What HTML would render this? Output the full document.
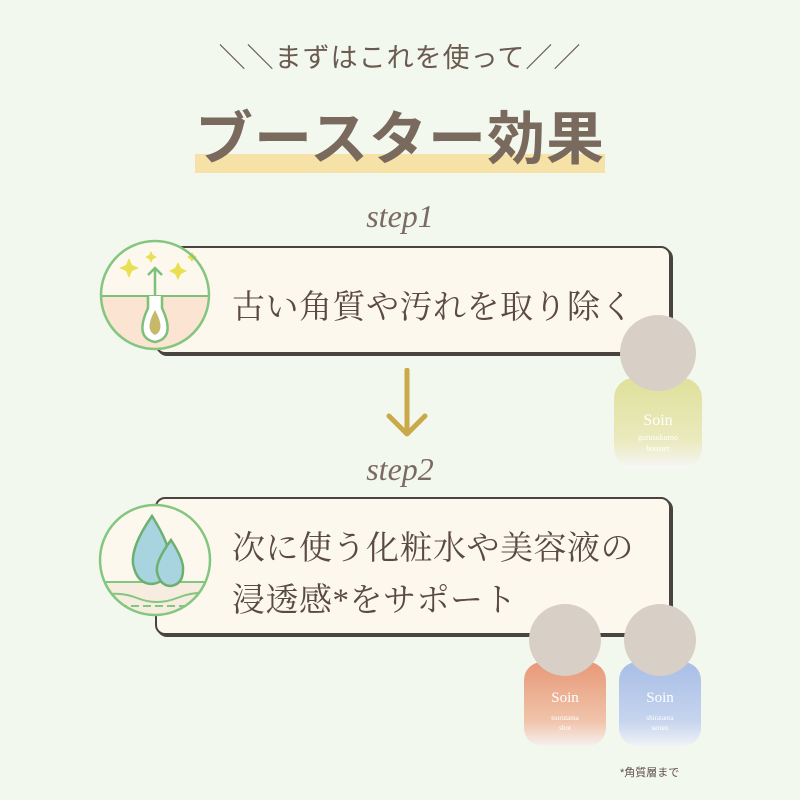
<!DOCTYPE html>
<html><head><meta charset="utf-8"><style>
html,body{margin:0;padding:0}
body{width:800px;height:800px;background:#f3f8ef;position:relative;overflow:hidden;font-family:"Liberation Sans","Noto Sans CJK JP",sans-serif;color:#5e5049}
.a{position:absolute}
.box{position:absolute;background:#fcf8ee;border:2px solid #4a4440;border-radius:10px;box-shadow:2px 2px 0 #4a4440}
.t{position:absolute;font-family:"Liberation Serif","Noto Serif CJK SC",serif;font-size:33px;color:#5a4a42;letter-spacing:0.5px;white-space:nowrap}
.step{position:absolute;width:800px;text-align:center;font-family:"Liberation Serif",serif;font-style:italic;font-size:32px;color:#7a6a60}
</style></head><body>
<div class="a" style="left:0;top:36px;width:800px;text-align:center;font-size:27px;color:#6a5a50;letter-spacing:1px">＼＼まずはこれを使って／／</div>
<div class="a" style="left:195px;top:154px;width:410px;height:19px;background:#f6e2a6"></div>
<div class="a" style="left:180px;top:92px;width:440px;text-align:center;font-size:58px;font-weight:bold;color:#7a6a5e;letter-spacing:1px">ブースター効果</div>
<div class="step" style="top:198px">step1</div>
<div class="box" style="left:155px;top:246px;width:512px;height:104px"></div>
<div class="t" style="left:232px;top:281px">古い角質や汚れを取り除く</div>
<svg class="a" style="left:98px;top:238px" width="114" height="114" viewBox="0 0 114 114">
<defs><clipPath id="c1"><circle cx="57" cy="57" r="54"/></clipPath></defs>
<circle cx="57" cy="57" r="54" fill="#fdf8ee"/>
<g clip-path="url(#c1)"><rect x="0" y="58" width="114" height="60" fill="#fbe4d2"/></g>
<line x1="3" y1="58" x2="111" y2="58" stroke="#7cc07a" stroke-width="2"/>
<path d="M50 58 L50 70 Q36 100 57 104 Q78 100 64 70 L64 58" fill="#fff" stroke="#7cc07a" stroke-width="2.5"/>
<path d="M57 72 Q46 92 57 97 Q68 92 57 72Z" fill="#c8b96a"/>
<line x1="57" y1="58" x2="57" y2="30" stroke="#7cc07a" stroke-width="2.5"/>
<path d="M50 37 L57 30 L64 37" fill="none" stroke="#7cc07a" stroke-width="2.5"/>
<g fill="#e8e050"><path d="M31 20 l3 7 7 3 -7 3 -3 7 -3 -7 -7 -3 7 -3z"/><path d="M80 24 l3 6 6 3 -6 3 -3 6 -3 -6 -6 -3 6 -3z"/><path d="M53 13 l2 4 4 2 -4 2 -2 4 -2 -4 -4 -2 4 -2z"/><path d="M94 14 l2 3 3 2 -3 2 -2 3 -2 -3 -3 -2 3 -2z"/></g>
<circle cx="57" cy="57" r="54" fill="none" stroke="#84c680" stroke-width="2.5"/>
</svg>
<svg class="a" style="left:385px;top:368px" width="44" height="72"><path d="M22 2 V66 M4 48 L22 66 L40 48" fill="none" stroke="#c9a94a" stroke-width="5" stroke-linecap="round" stroke-linejoin="round"/></svg>
<div class="step" style="top:451px">step2</div>
<div class="box" style="left:155px;top:497px;width:512px;height:134px"></div>
<div class="t" style="left:232px;top:522px">次に使う化粧水や美容液の</div>
<div class="t" style="left:232px;top:574px">浸透感*をサポート</div>
<svg class="a" style="left:97px;top:502px" width="116" height="116" viewBox="0 0 116 116">
<defs><clipPath id="c2"><circle cx="58" cy="58" r="55"/></clipPath></defs>
<circle cx="58" cy="58" r="55" fill="#fdf8ee"/>
<g clip-path="url(#c2)"><rect x="0" y="80" width="116" height="40" fill="#f6ecdf"/>
<line x1="0" y1="80" x2="116" y2="80" stroke="#84c680" stroke-width="2"/>
<path d="M0 95 Q20 88 40 96 T80 96 T120 92" fill="none" stroke="#84c680" stroke-width="2"/>
<line x1="10" y1="104" x2="106" y2="104" stroke="#84c680" stroke-width="2" stroke-dasharray="8 4"/>
<line x1="15" y1="113" x2="100" y2="113" stroke="#84c680" stroke-width="2" stroke-dasharray="6 5"/></g>
<path d="M55 14 Q34 44 36 62 Q40 82 55 82 Q72 80 73 60 Q74 44 55 14Z" fill="#a8d4e0" stroke="#6cb070" stroke-width="2.5"/>
<path d="M74 38 Q58 60 60 70 Q63 84 74 84 Q86 82 86 68 Q87 58 74 38Z" fill="#a8d4e0" stroke="#6cb070" stroke-width="2.5"/>
<circle cx="58" cy="58" r="55" fill="none" stroke="#84c680" stroke-width="2.5"/>
</svg>
<!-- bottles -->
<svg class="a" style="left:608px;top:310px" width="100" height="160">
<defs><linearGradient id="g1" x1="0" y1="0" x2="0" y2="1"><stop offset="0" stop-color="#dfe09a"/><stop offset=".7" stop-color="#eaeabf"/><stop offset="1" stop-color="#f6f6f6"/></linearGradient></defs>
<rect x="6" y="68" width="88" height="90" rx="20" fill="url(#g1)"/>
<circle cx="50" cy="43" r="38" fill="#d8cfc6"/>
<text x="50" y="130" font-size="8" fill="#fff" text-anchor="middle" font-family="Liberation Serif">gurusukumo</text>
<text x="50" y="141" font-size="8" fill="#fff" text-anchor="middle" font-family="Liberation Serif">booster</text>
<text x="50" y="115" font-size="16" fill="#fff" text-anchor="middle" font-family="Liberation Serif">Soin</text>
</svg>
<svg class="a" style="left:520px;top:600px" width="90" height="150">
<defs><linearGradient id="g2" x1="0" y1="0" x2="0" y2="1"><stop offset="0" stop-color="#e89878"/><stop offset=".7" stop-color="#f0c4aa"/><stop offset="1" stop-color="#f6f0ee"/></linearGradient></defs>
<rect x="4" y="62" width="82" height="84" rx="18" fill="url(#g2)"/>
<circle cx="45" cy="40" r="36" fill="#d8cfc6"/>
<text x="45" y="102" font-size="15" fill="#fff" text-anchor="middle" font-family="Liberation Serif">Soin</text>
<text x="45" y="120" font-size="7" fill="#fff" text-anchor="middle" font-family="Liberation Serif">tsurutama</text>
<text x="45" y="130" font-size="7" fill="#fff" text-anchor="middle" font-family="Liberation Serif">shot</text>
</svg>
<svg class="a" style="left:615px;top:600px" width="90" height="150">
<defs><linearGradient id="g3" x1="0" y1="0" x2="0" y2="1"><stop offset="0" stop-color="#a8bee6"/><stop offset=".7" stop-color="#c6d4ee"/><stop offset="1" stop-color="#f0f2f6"/></linearGradient></defs>
<rect x="4" y="62" width="82" height="84" rx="18" fill="url(#g3)"/>
<circle cx="45" cy="40" r="36" fill="#d8cfc6"/>
<text x="45" y="102" font-size="15" fill="#fff" text-anchor="middle" font-family="Liberation Serif">Soin</text>
<text x="45" y="120" font-size="7" fill="#fff" text-anchor="middle" font-family="Liberation Serif">shiratama</text>
<text x="45" y="130" font-size="7" fill="#fff" text-anchor="middle" font-family="Liberation Serif">serum</text>
</svg>
<div class="a" style="left:620px;top:764px;font-size:11px;color:#5e5049">*角質層まで</div>
</body></html>
